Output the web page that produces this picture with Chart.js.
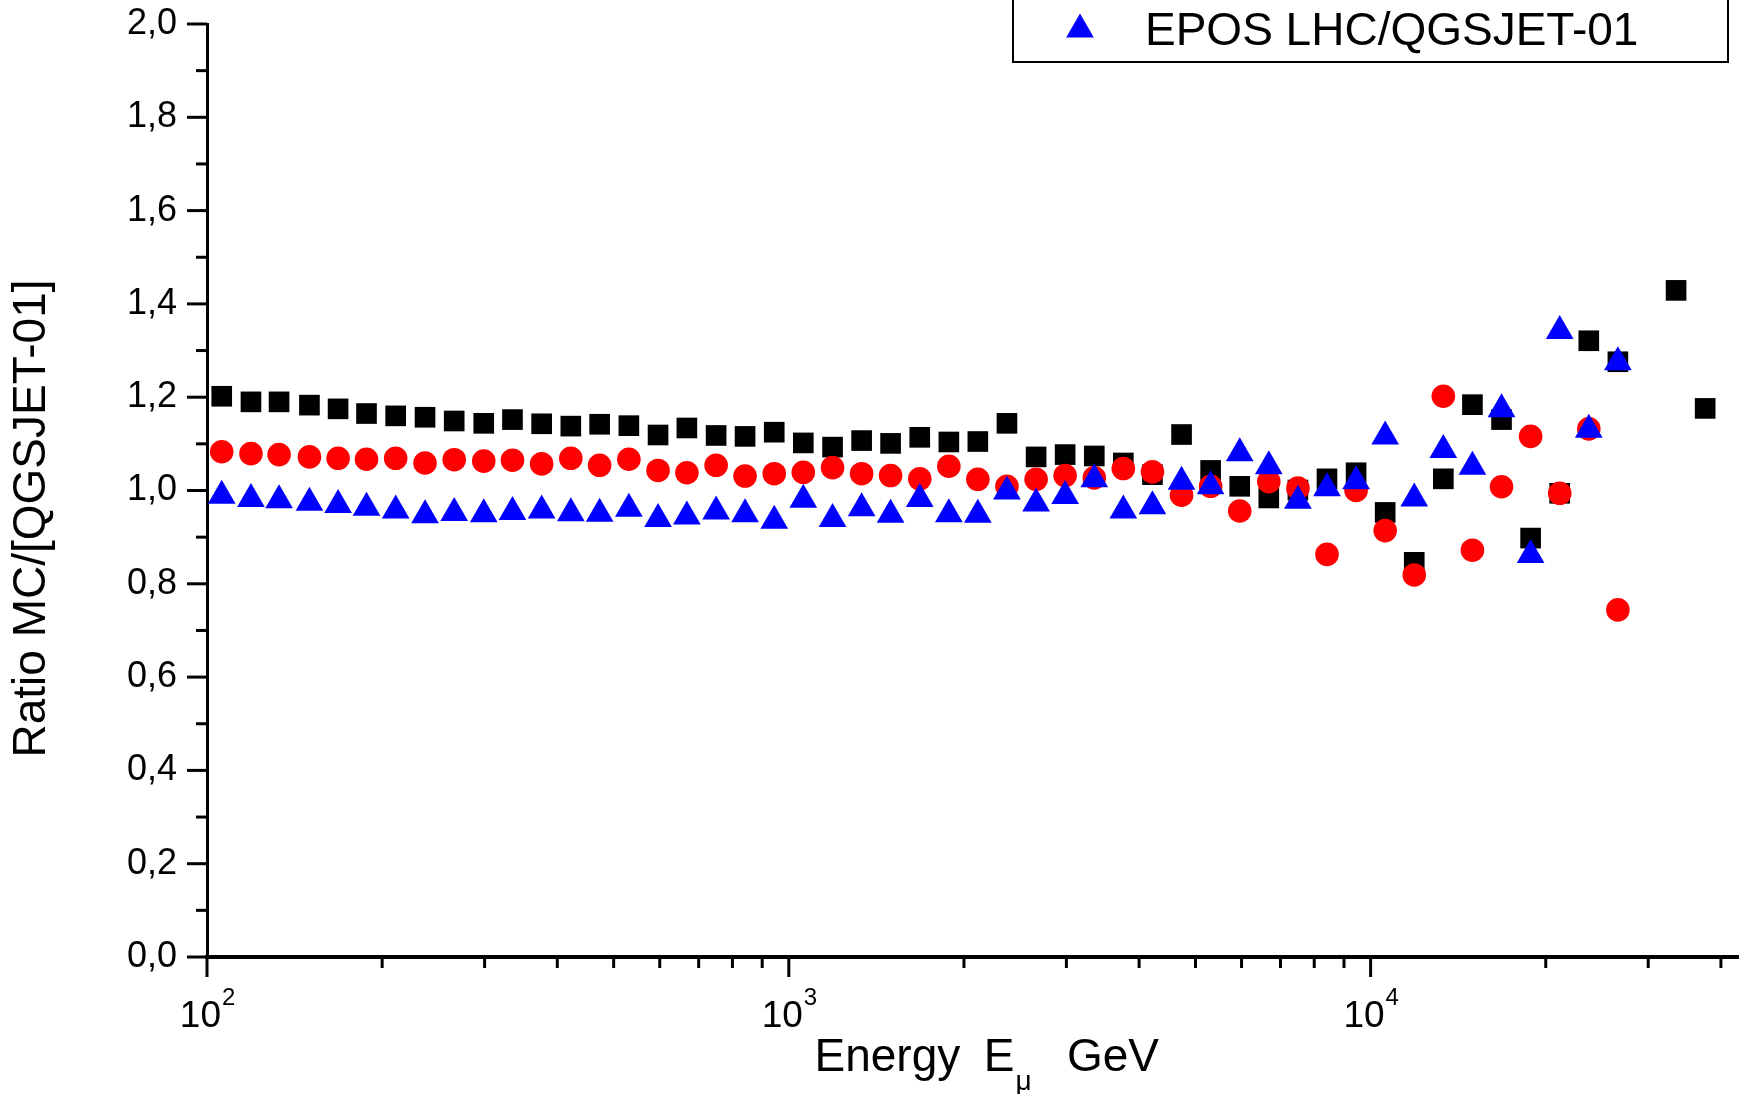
<!DOCTYPE html>
<html>
<head>
<meta charset="utf-8">
<title>Ratio MC/[QGSJET-01]</title>
<script src="https://cdn.jsdelivr.net/npm/chart.js@4.4.0/dist/chart.umd.min.js"></script>
<style>
  html, body { margin: 0; padding: 0; background: #fff; }
  #wrap { width: 1746px; height: 1094px; }
</style>
</head>
<body>
<div id="wrap"><canvas id="ratioChart" width="1746" height="1094"></canvas></div>
<script>
// ---------------------------------------------------------------
// data
// ---------------------------------------------------------------
const energies = [106, 119, 133, 150, 168, 188, 211, 237, 266, 299,
                  335, 376, 422, 473, 531, 596, 668, 750, 841, 944,
                  1059, 1189, 1334, 1496, 1679, 1884, 2113, 2371, 2661, 2985,
                  3350, 3758, 4217, 4732, 5309, 5957, 6683, 7499, 8414, 9441,
                  10593, 11885, 13335, 14962, 16788, 18836, 21135, 23714, 26607, 29854,
                  33497, 37584];

// black squares
const ratioSquares = [1.202, 1.190, 1.190, 1.183, 1.175, 1.165, 1.160, 1.157, 1.149, 1.144,
                      1.152, 1.143, 1.138, 1.142, 1.139, 1.119, 1.134, 1.118, 1.116, 1.125,
                      1.102, 1.093, 1.107, 1.101, 1.114, 1.104, 1.105, 1.144, 1.072, 1.077,
                      1.074, 1.059, 1.034, 1.120, 1.043, 1.009, 0.984, 1.001, 1.025, 1.038,
                      0.953, 0.846, 1.025, 1.184, 1.152, 0.898, 0.994, 1.321, 1.276, null,
                      1.429, 1.176];

// red circles
const ratioCircles = [1.083, 1.079, 1.077, 1.072, 1.069, 1.067, 1.069, 1.059, 1.066, 1.063,
                      1.065, 1.057, 1.069, 1.054, 1.067, 1.043, 1.038, 1.054, 1.031, 1.036,
                      1.039, 1.049, 1.036, 1.032, 1.025, 1.052, 1.024, 1.009, 1.024, 1.032,
                      1.027, 1.047, 1.040, 0.990, 1.009, 0.956, 1.019, 1.005, 0.863, 1.000,
                      0.914, 0.819, 1.202, 0.872, 1.008, 1.116, 0.994, 1.132, 0.744];

// blue triangles
const ratioTriangles = [0.989, 0.982, 0.979, 0.974, 0.969, 0.963, 0.957, 0.947, 0.952, 0.949,
                        0.954, 0.957, 0.951, 0.950, 0.961, 0.939, 0.944, 0.955, 0.949, 0.935,
                        0.980, 0.939, 0.962, 0.948, 0.982, 0.949, 0.948, 0.998, 0.972, 0.988,
                        1.024, 0.957, 0.966, 1.019, 1.009, 1.080, 1.052, 0.978, 1.005, 1.020,
                        1.116, 0.983, 1.087, 1.051, 1.174, 0.862, 1.342, 1.130, 1.275];

const seriesLabels = ['QGSJET II/QGSJET-01', 'SIBYLL/QGSJET-01', 'EPOS LHC/QGSJET-01'];

const yTickLabels = ['0,0', '0,2', '0,4', '0,6', '0,8', '1,0', '1,2', '1,4', '1,6', '1,8', '2,0'];
const xTickValues = [100, 1000, 10000];
const xTickExponents = ['2', '3', '4'];

// ---------------------------------------------------------------
// helpers
// ---------------------------------------------------------------
const FONT = "'Liberation Sans', Arial, Helvetica, sans-serif";

function toPoints(values) {
    const pts = [];
    values.forEach((v, i) => {
        if (v !== null && v !== undefined) pts.push({ x: energies[i], y: v });
    });
    return pts;
}

function strokeLine(ctx, x1, y1, x2, y2) {
    ctx.beginPath();
    ctx.moveTo(x1, y1);
    ctx.lineTo(x2, y2);
    ctx.stroke();
}

// ticks (major + minor), x labels with exponents, axis titles, legend box
const decorPlugin = {
    id: 'decor',
    afterDraw(chart) {
        const ctx = chart.ctx;
        const xs = chart.scales.x;
        const ys = chart.scales.y;
        const area = chart.chartArea;

        ctx.save();
        ctx.strokeStyle = '#000';
        ctx.fillStyle = '#000';
        ctx.lineWidth = 3;

        // y ticks, pointing left
        ys.ticks.forEach((t, i) => {
            const y = ys.getPixelForValue(t.value);
            strokeLine(ctx, area.left - 20, y, area.left, y);
            if (i < ys.ticks.length - 1) {
                const ym = ys.getPixelForValue((t.value + ys.ticks[i + 1].value) / 2);
                strokeLine(ctx, area.left - 11, ym, area.left, ym);
            }
        });

        // x ticks, pointing down
        xTickValues.forEach(v => {
            const x = xs.getPixelForValue(v);
            strokeLine(ctx, x, area.bottom, x, area.bottom + 20);
            for (let m = 2; m <= 9; m++) {
                if (v * m > xs.max) break;
                const xm = xs.getPixelForValue(v * m);
                strokeLine(ctx, xm, area.bottom, xm, area.bottom + 11);
            }
        });

        // x tick labels 10^n
        xTickValues.forEach((v, i) => {
            const x = xs.getPixelForValue(v);
            ctx.textBaseline = 'alphabetic';
            ctx.font = '37px ' + FONT;
            ctx.textAlign = 'right';
            ctx.fillText('10', x + 14, area.bottom + 70);
            ctx.font = '24px ' + FONT;
            ctx.textAlign = 'left';
            ctx.fillText(xTickExponents[i], x + 15, area.bottom + 48);
        });

        // x axis title: Energy  E_mu   GeV
        const cx = (area.left + area.right) / 2;
        const ty = area.bottom + 114;
        ctx.textAlign = 'left';
        ctx.font = '46px ' + FONT;
        let x0 = cx - 158;
        ctx.fillText('Energy', x0, ty);
        x0 += ctx.measureText('Energy  ').width - 2;
        ctx.fillText('E', x0, ty);
        x0 += ctx.measureText('E').width;
        ctx.font = '28px ' + FONT;
        ctx.fillText('\u03bc', x0 + 1, ty + 19);
        x0 += ctx.measureText('\u03bc').width + 1;
        ctx.font = '46px ' + FONT;
        ctx.fillText('   GeV', x0 - 3, ty);

        // y axis title
        ctx.save();
        ctx.translate(45, (area.top + area.bottom) / 2 + 28);
        ctx.rotate(-Math.PI / 2);
        ctx.textAlign = 'center';
        ctx.font = '46px ' + FONT;
        ctx.fillText('Ratio MC/[QGSJET-01]', 0, 0);
        ctx.restore();

        // legend box (upper entries are cut off by the top edge)
        ctx.lineWidth = 2;
        ctx.strokeRect(1013, -10, 715, 72);
        const blue = chart.data.datasets.find(d => d.pointStyle === 'triangle');
        const tx = 1080, tyy = 29.5, r = 16;
        ctx.fillStyle = blue.backgroundColor;
        ctx.beginPath();
        ctx.moveTo(tx, tyy - r);
        ctx.lineTo(tx + r * Math.sin(2 * Math.PI / 3), tyy + r / 2);
        ctx.lineTo(tx - r * Math.sin(2 * Math.PI / 3), tyy + r / 2);
        ctx.closePath();
        ctx.fill();
        ctx.fillStyle = '#000';
        ctx.font = '46px ' + FONT;
        ctx.textAlign = 'left';
        ctx.fillText(blue.label, 1145, 45);

        ctx.restore();
    }
};

// ---------------------------------------------------------------
// chart
// ---------------------------------------------------------------
const ctx = document.getElementById('ratioChart').getContext('2d');

new Chart(ctx, {
    type: 'scatter',
    data: {
        datasets: [
            {
                label: seriesLabels[0],
                data: toPoints(ratioSquares),
                pointStyle: 'rect',
                pointRadius: 14.6,
                backgroundColor: '#000000',
                borderWidth: 0,
                order: 3
            },
            {
                label: seriesLabels[1],
                data: toPoints(ratioCircles),
                pointStyle: 'circle',
                pointRadius: 11.8,
                backgroundColor: '#ff0000',
                borderWidth: 0,
                order: 2
            },
            {
                label: seriesLabels[2],
                data: toPoints(ratioTriangles),
                pointStyle: 'triangle',
                pointRadius: 16,
                backgroundColor: '#0000ff',
                borderWidth: 0,
                order: 1
            }
        ]
    },
    options: {
        responsive: false,
        devicePixelRatio: 1,
        animation: false,
        clip: false,
        layout: { autoPadding: false, padding: { top: 24, right: 8, left: 0, bottom: 0 } },
        plugins: {
            legend: { display: false },
            tooltip: { enabled: false }
        },
        scales: {
            x: {
                type: 'logarithmic',
                min: 100,
                max: 42800,
                afterBuildTicks: (scale) => {
                    scale.ticks = xTickValues.map(v => ({ value: v }));
                },
                afterFit: (scale) => {
                    scale.height = 137;
                    scale.paddingLeft = 0;
                    scale.paddingRight = 0;
                    scale.paddingTop = 0;
                    scale.paddingBottom = 0;
                },
                ticks: { display: false },
                grid: { display: false, drawTicks: false },
                border: { display: true, color: '#000', width: 4 }
            },
            y: {
                min: 0,
                max: 2,
                afterFit: (scale) => {
                    scale.width = 207;
                    scale.paddingLeft = 0;
                    scale.paddingRight = 0;
                    scale.paddingTop = 0;
                    scale.paddingBottom = 0;
                },
                ticks: {
                    stepSize: 0.2,
                    padding: 30,
                    color: '#000',
                    font: { family: FONT, size: 36 },
                    callback: (v, i) => yTickLabels[i]
                },
                grid: { display: false, drawTicks: false },
                border: { display: true, color: '#000', width: 3 }
            }
        }
    },
    plugins: [decorPlugin]
});
</script>
</body>
</html>
